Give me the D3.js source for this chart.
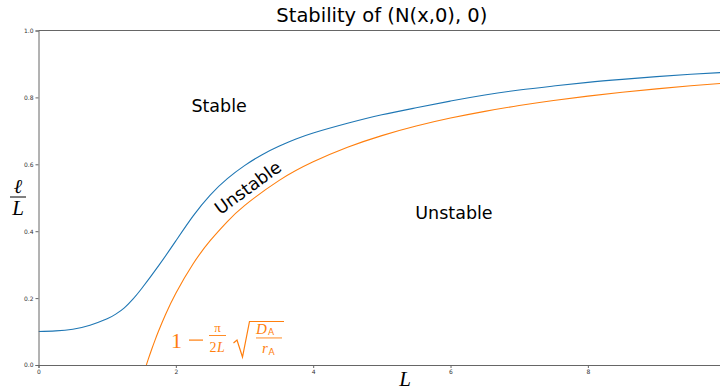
<!DOCTYPE html>
<html>
<head>
<meta charset="utf-8">
<script src="https://cdn.jsdelivr.net/npm/d3@7"></script>
<style>
  html, body { margin: 0; padding: 0; background: #fff; overflow: hidden; }
  svg { display: block; }
  .tick text { font-family: "DejaVu Sans", sans-serif; font-size: 6px; fill: #333; }
</style>
</head>
<body>
<svg id="chart" width="720" height="391"></svg>
<script>
// Stability boundary of the homogeneous state: numerically traced curve (blue)
// and the analytic bound 1 - pi/(2L) sqrt(D_A/r_A) (orange).
const boundaryL   = [0, 0.25, 0.5, 0.75, 1.0, 1.125, 1.25, 1.375, 1.5, 1.75, 2.0, 2.25, 2.5, 2.75, 3.0, 3.25, 3.5, 3.75, 4.0, 4.5, 5.0, 5.5, 6.0, 6.5, 7.0, 7.5, 8.0, 8.5, 9.0, 9.5, 10.0];
const boundaryVal = [0.100, 0.102, 0.107, 0.119, 0.138, 0.152, 0.171, 0.197, 0.228, 0.297, 0.371, 0.445, 0.508, 0.557, 0.596, 0.628, 0.654, 0.6755, 0.6935, 0.7225, 0.748, 0.769, 0.789, 0.807, 0.822, 0.834, 0.845, 0.854, 0.862, 0.869, 0.875];

const analyticL   = [1.5708, 1.6, 1.65, 1.7, 1.75, 1.85, 2.0, 2.25, 2.5, 2.75, 3.0, 3.5, 4.0, 4.5, 5.0, 5.5, 6.0, 6.5, 7.0, 7.5, 8.0, 8.5, 9.0, 9.5, 10.0];
const analyticVal = [0.0, 0.0183, 0.0480, 0.0760, 0.1024, 0.1509, 0.2146, 0.3019, 0.3717, 0.4288, 0.4764, 0.5512, 0.6073, 0.6509, 0.6858, 0.7144, 0.7382, 0.7583, 0.7756, 0.7906, 0.8037, 0.8152, 0.8255, 0.8347, 0.8429];

const xTicks = [0, 2, 4, 6, 8];
const yTicks = [0.0, 0.2, 0.4, 0.6, 0.8, 1.0];

const titleText = "Stability of (N(x,0), 0)";
const regionLabels = [
  { text: "Stable",   L: 2.63, v: 0.775, angle: 0 },
  { text: "Unstable", L: 6.05, v: 0.454, angle: 0 },
  { text: "Unstable", L: 3.05, v: 0.530, angle: -36 }
];

const blue = "#1f77b4", orange = "#ff7f0e";

const svg = d3.select("#chart");
const mLeft = 38.5, mTop = 30.5, mRight = 725.2, mBottom = 365;

const x = d3.scaleLinear().domain([0, 10]).range([mLeft, mRight]);
const y = d3.scaleLinear().domain([0, 1]).range([mBottom, mTop]);

svg.append("defs").append("clipPath").attr("id", "plotArea")
  .append("rect").attr("x", mLeft).attr("y", mTop)
  .attr("width", mRight - mLeft).attr("height", mBottom - mTop);

// Curves
const line = d3.line().x(d => x(d[0])).y(d => y(d[1])).curve(d3.curveNatural);
const plot = svg.append("g").attr("clip-path", "url(#plotArea)");
plot.append("path")
  .datum(boundaryL.map((L, i) => [L, boundaryVal[i]]))
  .attr("d", line).attr("fill", "none").attr("stroke", blue).attr("stroke-width", 1.1);
plot.append("path")
  .datum(analyticL.map((L, i) => [L, analyticVal[i]]))
  .attr("d", line).attr("fill", "none").attr("stroke", orange).attr("stroke-width", 1.1);

// Axes
const spine = "#666";
const xAxis = svg.append("g").attr("transform", `translate(0,${mBottom})`)
  .call(d3.axisBottom(x).tickValues(xTicks).tickFormat(d3.format("d")).tickSize(3).tickPadding(2));
const yAxis = svg.append("g").attr("transform", `translate(${mLeft},0)`)
  .call(d3.axisLeft(y).tickValues(yTicks).tickFormat(d3.format(".1f")).tickSize(3).tickPadding(2));
[xAxis, yAxis].forEach(g => {
  g.select(".domain").attr("stroke", spine).attr("stroke-width", 1);
  g.selectAll(".tick line").attr("stroke", spine);
});
// Top spine
svg.append("line").attr("x1", mLeft).attr("x2", mRight).attr("y1", mTop).attr("y2", mTop)
  .attr("stroke", spine).attr("stroke-width", 1);

// Title
svg.append("text").attr("x", (mLeft + mRight) / 2).attr("y", 22)
  .attr("text-anchor", "middle")
  .style("font-family", "DejaVu Sans, sans-serif").style("font-size", "19.5px")
  .text(titleText);

// Region labels
regionLabels.forEach(r => {
  svg.append("text")
    .attr("transform", `translate(${x(r.L)},${y(r.v)}) rotate(${r.angle})`)
    .attr("text-anchor", "middle").attr("dominant-baseline", "central")
    .style("font-family", "DejaVu Sans, sans-serif").style("font-size", "17.5px")
    .text(r.text);
});

const serif = "Liberation Serif, DejaVu Serif, serif";

// Axis labels
svg.append("text").attr("x", 405).attr("y", 386).attr("text-anchor", "middle")
  .style("font-family", serif).style("font-style", "italic").style("font-size", "21px")
  .text("L");
const yl = svg.append("g").attr("transform", "translate(18,197)");
yl.append("text").attr("x", 0).attr("y", -4).attr("text-anchor", "middle")
  .style("font-family", "DejaVu Serif, serif").style("font-style", "italic").style("font-size", "20px")
  .text("ℓ");
yl.append("line").attr("x1", -8).attr("x2", 8).attr("y1", 0).attr("y2", 0)
  .attr("stroke", "#000").attr("stroke-width", 1);
yl.append("text").attr("x", 0).attr("y", 18).attr("text-anchor", "middle")
  .style("font-family", serif).style("font-style", "italic").style("font-size", "21px")
  .text("L");

// Formula label for the analytic curve
const f = svg.append("g").attr("fill", orange).attr("stroke", "none");
const ftext = (tx, ty, s, size, opts = {}) => f.append("text")
  .attr("x", tx).attr("y", ty).attr("text-anchor", opts.anchor || "start")
  .style("font-family", opts.family || serif)
  .style("font-style", opts.italic ? "italic" : "normal")
  .style("font-size", size + "px").text(s);
ftext(171, 348, "1", 22);
f.append("rect").attr("x", 189).attr("y", 339.5).attr("width", 14).attr("height", 1.2);
ftext(217.5, 332, "π", 13, { anchor: "middle" });
f.append("rect").attr("x", 209).attr("y", 335).attr("width", 17).attr("height", 0.9);
ftext(209.5, 352, "2", 14);
ftext(217, 352, "L", 14, { italic: true });
f.append("path")
  .attr("d", "M233.5,343 L237,340 L242.5,357 L249.5,321.5 L284,321.5")
  .attr("fill", "none").attr("stroke", orange).attr("stroke-width", 1.2);
ftext(256, 334, "D", 15, { italic: true });
ftext(268, 335, "A", 9, { family: "DejaVu Sans, sans-serif" });
f.append("rect").attr("x", 256).attr("y", 337.5).attr("width", 26).attr("height", 0.9);
ftext(262, 353, "r", 15, { italic: true });
ftext(268.5, 355, "A", 9, { family: "DejaVu Sans, sans-serif" });
</script>
</body>
</html>
